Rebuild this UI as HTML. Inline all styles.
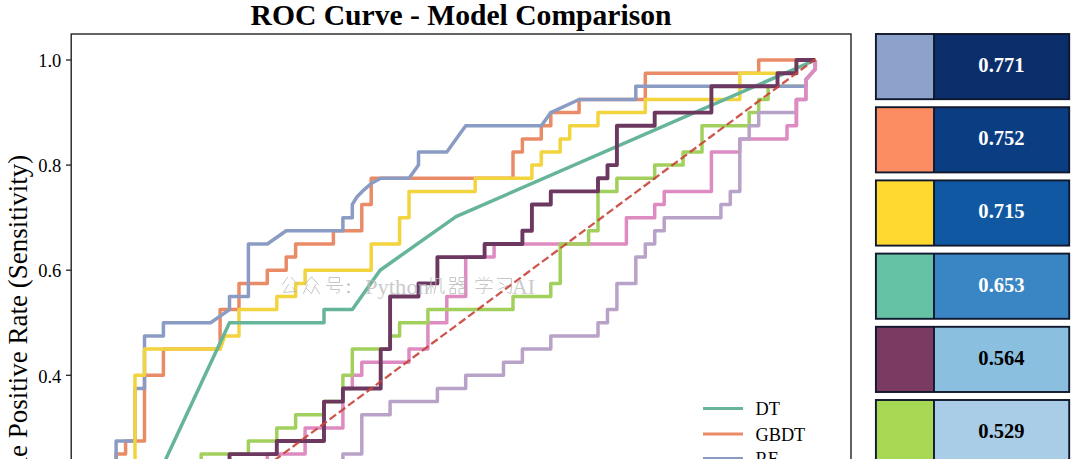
<!DOCTYPE html>
<html><head><meta charset="utf-8"><style>
html,body{margin:0;padding:0;background:#fff;}
body{width:1080px;height:459px;overflow:hidden;position:relative;}
svg{position:absolute;left:0;top:0;font-family:"Liberation Serif",serif;}
#wrap{position:absolute;left:0;top:0;width:1080px;height:459px;}
</style></head><body><div id="wrap">
<svg width="1080" height="459" viewBox="0 0 1080 459">
<rect width="1080" height="459" fill="#fff"/>
<text x="250.5" y="25" font-size="28.5" font-weight="bold" textLength="421" lengthAdjust="spacingAndGlyphs">ROC Curve - Model Comparison</text>
<defs><clipPath id="ax"><rect x="71" y="34" width="780" height="600"/></clipPath></defs>
<g clip-path="url(#ax)">
<polyline points="116.1,611.8 116.1,454.1 125.6,454.1 125.6,441.0 144.5,441.0 144.5,375.3 163.4,375.3 163.4,349.1 220.1,349.1 220.1,309.6 239.0,309.6 239.0,283.4 267.3,283.4 267.3,270.2 286.2,270.2 286.2,257.1 295.6,257.1 295.6,244.0 333.4,244.0 333.4,230.8 361.8,230.8 361.8,204.5 371.2,204.5 371.2,178.3 513.0,178.3 513.0,152.0 522.4,152.0 522.4,138.9 541.3,138.9 541.3,125.7 550.8,125.7 550.8,112.6 579.1,112.6 579.1,99.5 645.3,99.5 645.3,73.2 758.7,73.2 758.7,60.0 815.3,60.0" fill="none" stroke="#ea8b68" stroke-width="3.5" stroke-linejoin="round"/>
<polyline points="267.3,611.8 267.3,454.1 305.1,454.1 305.1,427.9 342.9,427.9 342.9,388.5 352.3,388.5 352.3,375.3 361.8,375.3 361.8,362.2 409.0,362.2 409.0,349.1 427.9,349.1 427.9,322.8 446.8,322.8 446.8,296.5 465.7,296.5 465.7,257.1 494.1,257.1 494.1,244.0 626.4,244.0 626.4,217.7 654.7,217.7 654.7,204.5 664.2,204.5 664.2,191.4 711.4,191.4 711.4,152.0 739.8,152.0 739.8,138.9 787.0,138.9 787.0,125.7 796.4,125.7 796.4,99.5" fill="none" stroke="#de8bc1" stroke-width="3.5" stroke-linejoin="round"/>
<polyline points="201.2,611.8 201.2,454.1 248.4,454.1 248.4,441.0 276.8,441.0 276.8,427.9 295.6,427.9 295.6,414.7 324.0,414.7 324.0,401.6 342.9,401.6 342.9,375.3 352.3,375.3 352.3,349.1 390.1,349.1 390.1,335.9 399.6,335.9 399.6,322.8 427.9,322.8 427.9,309.6 513.0,309.6 513.0,296.5 550.8,296.5 550.8,283.4 560.2,283.4 560.2,244.0 588.6,244.0 588.6,230.8 598.0,230.8 598.0,191.4 616.9,191.4 616.9,178.3 654.7,178.3 654.7,165.1 683.1,165.1 683.1,152.0 702.0,152.0 702.0,125.7 749.2,125.7 749.2,112.6 758.7,112.6 758.7,99.5 768.1,99.5 768.1,86.3 805.9,86.3 805.9,79.7 815.3,69.2 815.3,60.0" fill="none" stroke="#a2d05c" stroke-width="3.5" stroke-linejoin="round"/>
<polyline points="116.1,611.8 116.1,441.0 135.0,441.0 135.0,388.5 144.5,388.5 144.5,335.9 163.4,335.9 163.4,322.8 210.6,322.8 229.5,309.6 229.5,296.5 248.4,296.5 248.4,244.0 267.3,244.0 286.2,230.8 342.9,230.8 342.9,217.7 352.3,217.7 352.3,204.5 357.1,196.7 363.7,190.1 371.2,183.5 380.7,178.3 409.0,178.3 418.5,165.1 418.5,152.0 446.8,152.0 465.7,125.7 541.3,125.7 550.8,112.6 579.1,99.5 635.8,99.5 635.8,86.3 805.9,86.3 805.9,79.7 815.3,69.2 815.3,60.0" fill="none" stroke="#8a9cc3" stroke-width="3.5" stroke-linejoin="round"/>
<polyline points="135.0,611.8 135.0,375.3 144.5,375.3 144.5,349.1 220.1,349.1 224.8,335.9 239.0,335.9 239.0,309.6 276.8,309.6 276.8,296.5 295.6,296.5 295.6,283.4 305.1,283.4 305.1,270.2 371.2,270.2 371.2,244.0 399.6,244.0 399.6,217.7 409.0,217.7 409.0,191.4 475.2,191.4 475.2,178.3 531.9,178.3 531.9,165.1 541.3,165.1 541.3,152.0 560.2,152.0 560.2,138.9 569.7,138.9 569.7,125.7 598.0,125.7 598.0,112.6 645.3,112.6 645.3,99.5 739.8,99.5 739.8,73.2 777.5,73.2 796.4,73.2 796.4,60.0 815.3,60.0" fill="none" stroke="#f2d43e" stroke-width="3.5" stroke-linejoin="round"/>
<polyline points="106.7,585.5 229.5,322.8 324.0,322.8 324.0,309.6 352.3,309.6 380.1,270.2 456.0,216.6 815.3,60.0" fill="none" stroke="#66b49a" stroke-width="3.5" stroke-linejoin="round"/>
<polyline points="342.9,611.8 342.9,454.1 361.8,454.1 361.8,414.7 390.1,414.7 390.1,401.6 437.4,401.6 437.4,388.5 465.7,388.5 465.7,375.3 503.5,375.3 503.5,362.2 522.4,362.2 522.4,349.1 550.8,349.1 550.8,335.9 598.0,335.9 598.0,322.8 607.5,322.8 607.5,309.6 616.9,309.6 616.9,283.4 635.8,283.4 635.8,257.1 645.3,257.1 645.3,244.0 654.7,244.0 654.7,230.8 664.2,230.8 664.2,217.7 720.9,217.7 720.9,204.5 730.3,204.5 730.3,191.4 739.8,191.4 739.8,138.9 749.2,138.9 749.2,125.7 758.7,125.7 758.7,112.6 796.4,112.6 796.4,99.5 805.9,99.5 805.9,79.7 815.3,69.2 815.3,60.0" fill="none" stroke="#b9a2c8" stroke-width="3.5" stroke-linejoin="round"/>
<polyline points="796.4,125.7 796.4,99.5 805.9,99.5 805.9,79.7 815.3,69.2 815.3,60.0" fill="none" stroke="#de8bc1" stroke-width="3.5" stroke-linejoin="round"/>
<polyline points="229.5,611.8 229.5,454.1 276.8,454.1 276.8,441.0 324.0,441.0 324.0,401.6 342.9,401.6 342.9,388.5 380.7,388.5 380.7,349.1 390.1,349.1 390.1,296.5 418.5,296.5 418.5,283.4 437.4,283.4 437.4,257.1 484.6,257.1 484.6,244.0 522.4,244.0 522.4,230.8 531.9,230.8 531.9,204.5 550.8,204.5 550.8,191.4 598.0,191.4 598.0,178.3 607.5,178.3 607.5,165.1 616.9,165.1 616.9,125.7 654.7,125.7 654.7,112.6 711.4,112.6 711.4,86.3 777.5,86.3 777.5,73.2 796.4,73.2 796.4,60.0 815.3,60.0" fill="none" stroke="#6c3860" stroke-width="3.9" stroke-linejoin="round"/>
<line x1="106.7" y1="584.7" x2="815.3" y2="59.2" stroke="#c8443a" stroke-opacity="0.9" stroke-width="2.3" stroke-dasharray="8,3.5" stroke-dashoffset="10"/>
</g>
<g fill="none" stroke="#b8b8b8" stroke-width="1.0" stroke-linecap="round" opacity="0.8"><path transform="translate(280.5,276.5)" d="M7,1 L2,8 M11,1 L17,8 M8,8 L3,16 L15,15 M12,11 L16,16"/><path transform="translate(302.5,276.5)" d="M9,0.5 L2,8 M9,0.5 L16,8 M5,8 L1,17 M4,12 L8,16 M13,8 L9,17 M13,11 L17,17"/><path transform="translate(325.5,276.5)" d="M4,1 H14 V6 H4 Z M1,9 H17 M6,9 L5,13 H14 Q14,17 11,17"/><path transform="translate(427,276.5)" d="M0.5,5 H7 M4,1 V17 M4,7 L0.5,14 M4,8 L7,12 M9,2 H14 V15 Q14,17 17,17 V14 M9,2 Q9,12 7,17"/><path transform="translate(448.5,276.5)" d="M2,1 H7 V5 H2 Z M11,1 H16 V5 H11 Z M1,8 H17 M9,6 L3,11 M9,7 L15,11 M13,6 L14,7 M2,12 H7 V17 H2 Z M11,12 H16 V17 H11 Z"/><path transform="translate(475,276.5)" d="M4,1 L6,3 M9,0.5 L9,3 M14,1 L12,3 M1,6 V4 H17 V6 M5,8 H13 L9,11 V16 Q9,17.5 7,17 M1,12 H17"/><path transform="translate(495.5,276.5)" d="M2,2 H16 Q16,15 15,17 L12,16 M4,6 L8,8 M3,13 L12,9"/></g><g fill="#b8b8b8" opacity="0.9"><circle cx="348.5" cy="284.5" r="1.3"/><circle cx="348.5" cy="292" r="1.3"/></g><text x="365" y="294" font-size="21" fill="#b8b8b8" opacity="0.75" textLength="64" lengthAdjust="spacingAndGlyphs">Python</text><text x="512" y="294" font-size="21" fill="#b8b8b8" opacity="0.75" textLength="23" lengthAdjust="spacingAndGlyphs">AI</text>
<rect x="71.2" y="34" width="779.8" height="600" fill="none" stroke="#222" stroke-width="1.4"/>
<line x1="66" y1="60.0" x2="71" y2="60.0" stroke="#222" stroke-width="1.3"/><text x="61.3" y="67.2" text-anchor="end" font-size="18.5">1.0</text><line x1="66" y1="165.1" x2="71" y2="165.1" stroke="#222" stroke-width="1.3"/><text x="61.3" y="172.3" text-anchor="end" font-size="18.5">0.8</text><line x1="66" y1="270.2" x2="71" y2="270.2" stroke="#222" stroke-width="1.3"/><text x="61.3" y="277.4" text-anchor="end" font-size="18.5">0.6</text><line x1="66" y1="375.3" x2="71" y2="375.3" stroke="#222" stroke-width="1.3"/><text x="61.3" y="382.5" text-anchor="end" font-size="18.5">0.4</text><line x1="66" y1="480.4" x2="71" y2="480.4" stroke="#222" stroke-width="1.3"/><text x="61.3" y="487.6" text-anchor="end" font-size="18.5">0.2</text>
<text transform="translate(27,324.9) rotate(-90)" text-anchor="middle" font-size="27">True Positive Rate (Sensitivity)</text>
<line x1="703" y1="408.4" x2="743" y2="408.4" stroke="#66b49a" stroke-width="3.0"/><text x="755.5" y="415.2" font-size="18.3">DT</text><line x1="703" y1="434.1" x2="743" y2="434.1" stroke="#ea8b68" stroke-width="3.0"/><text x="755.5" y="440.9" font-size="18.3">GBDT</text><line x1="703" y1="458.5" x2="743" y2="458.5" stroke="#8a9cc3" stroke-width="3.0"/><text x="755.5" y="465.3" font-size="18.3">RF</text>
<rect x="876" y="34.0" width="58" height="65.2" fill="#8da2cb"/><rect x="934" y="34.0" width="135.2" height="65.2" fill="#0b2e6b"/><rect x="875.9" y="34.0" width="193.3" height="65.2" fill="none" stroke="#10182e" stroke-width="1.9"/><line x1="934" y1="34.0" x2="934" y2="99.2" stroke="#10182e" stroke-width="1.9"/><text x="1001.5" y="72.0" text-anchor="middle" font-size="20.6" font-weight="bold" fill="#fff">0.771</text><rect x="876" y="107.2" width="58" height="65.2" fill="#fc8d62"/><rect x="934" y="107.2" width="135.2" height="65.2" fill="#0a3d82"/><rect x="875.9" y="107.2" width="193.3" height="65.2" fill="none" stroke="#10182e" stroke-width="1.9"/><line x1="934" y1="107.2" x2="934" y2="172.4" stroke="#10182e" stroke-width="1.9"/><text x="1001.5" y="145.2" text-anchor="middle" font-size="20.6" font-weight="bold" fill="#fff">0.752</text><rect x="876" y="180.4" width="58" height="65.2" fill="#ffd92f"/><rect x="934" y="180.4" width="135.2" height="65.2" fill="#1158a2"/><rect x="875.9" y="180.4" width="193.3" height="65.2" fill="none" stroke="#10182e" stroke-width="1.9"/><line x1="934" y1="180.4" x2="934" y2="245.6" stroke="#10182e" stroke-width="1.9"/><text x="1001.5" y="218.4" text-anchor="middle" font-size="20.6" font-weight="bold" fill="#fff">0.715</text><rect x="876" y="253.6" width="58" height="65.2" fill="#66c2a5"/><rect x="934" y="253.6" width="135.2" height="65.2" fill="#3a85c3"/><rect x="875.9" y="253.6" width="193.3" height="65.2" fill="none" stroke="#10182e" stroke-width="1.9"/><line x1="934" y1="253.6" x2="934" y2="318.8" stroke="#10182e" stroke-width="1.9"/><text x="1001.5" y="291.6" text-anchor="middle" font-size="20.6" font-weight="bold" fill="#fff">0.653</text><rect x="876" y="326.8" width="58" height="65.2" fill="#7a3a62"/><rect x="934" y="326.8" width="135.2" height="65.2" fill="#8bbfe0"/><rect x="875.9" y="326.8" width="193.3" height="65.2" fill="none" stroke="#10182e" stroke-width="1.9"/><line x1="934" y1="326.8" x2="934" y2="392.0" stroke="#10182e" stroke-width="1.9"/><text x="1001.5" y="364.8" text-anchor="middle" font-size="20.6" font-weight="bold" fill="#000">0.564</text><rect x="876" y="400.0" width="58" height="65.2" fill="#a6d854"/><rect x="934" y="400.0" width="135.2" height="65.2" fill="#a9cde6"/><rect x="875.9" y="400.0" width="193.3" height="65.2" fill="none" stroke="#10182e" stroke-width="1.9"/><line x1="934" y1="400.0" x2="934" y2="465.2" stroke="#10182e" stroke-width="1.9"/><text x="1001.5" y="438.0" text-anchor="middle" font-size="20.6" font-weight="bold" fill="#000">0.529</text>
</svg></div>
</body></html>
